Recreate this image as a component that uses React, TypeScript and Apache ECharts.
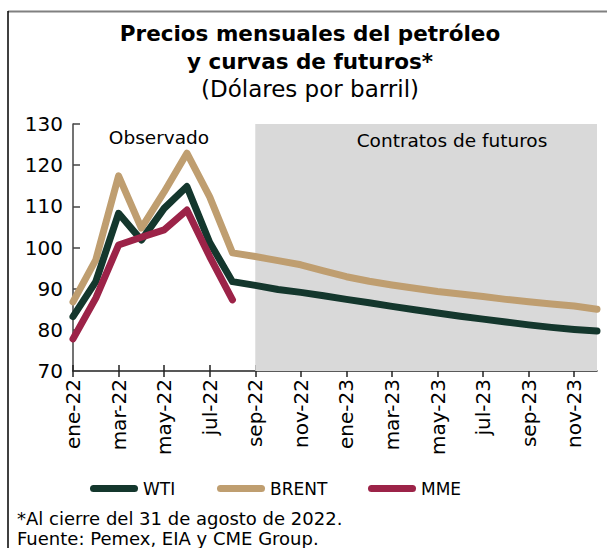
import React, { useEffect, useRef } from "react";
import * as echarts from "echarts";

const categories = [
  "ene-22", "feb-22", "mar-22", "abr-22", "may-22", "jun-22", "jul-22", "ago-22",
  "sep-22", "oct-22", "nov-22", "dic-22", "ene-23", "feb-23", "mar-23", "abr-23",
  "may-23", "jun-23", "jul-23", "ago-23", "sep-23", "oct-23", "nov-23", "dic-23",
];

const wti = [
  83.2, 91.7, 108.3, 101.8, 109.5, 114.8, 101.2, 91.7,
  90.8, 89.8, 89.1, 88.3, 87.4, 86.6, 85.7, 84.9,
  84.1, 83.3, 82.6, 81.9, 81.2, 80.6, 80.1, 79.7,
];

const brent = [
  86.8, 97.0, 117.4, 104.7, 113.5, 122.9, 112.3, 98.7,
  97.8, 96.8, 95.8, 94.3, 92.9, 91.8, 90.9, 90.1,
  89.3, 88.7, 88.1, 87.4, 86.8, 86.3, 85.8, 85.0,
];

const mme = [
  77.8, 87.7, 100.6, 102.5, 104.3, 109.1, 97.8, 87.3,
  null, null, null, null, null, null, null, null,
  null, null, null, null, null, null, null, null,
];

const yTicks = { min: 70, max: 130, interval: 10 };
const futuresStart = "sep-22";
const futuresEnd = "dic-23";

const FONT = "DejaVu Sans";
const C_WTI = "#14372D";
const C_BRENT = "#BF9E70";
const C_MME = "#9C2348";
const CAPSULE = "path://M3.5,0 L44.5,0 A3.5,3.5 0 0 1 44.5,7 L3.5,7 A3.5,3.5 0 0 1 3.5,0 Z";

export default function App() {
  const ref = useRef<HTMLDivElement>(null);
  useEffect(() => {
    document.body.style.margin = "0";
    const chart = echarts.init(ref.current!, null, { renderer: "svg" });
    const legendBase = {
      top: 480,
      padding: 0,
      itemWidth: 48,
      itemHeight: 7,
      icon: CAPSULE,
      textStyle: { fontFamily: FONT, fontSize: 17, color: "#000" },
      selectedMode: false,
    };
    chart.setOption({
      animation: false,
      backgroundColor: "#fff",
      grid: { left: 73, right: 10, top: 124, bottom: 177, containLabel: false },
      legend: [
        { ...legendBase, left: 90, data: ["WTI"] },
        { ...legendBase, left: 217, data: ["BRENT"] },
        { ...legendBase, left: 368, data: ["MME"] },
      ],
      xAxis: [
        {
          type: "category",
          data: categories,
          boundaryGap: false,
          axisLine: { lineStyle: { color: "#222", width: 1.5 } },
          axisTick: { interval: 1, length: 6, lineStyle: { color: "#222", width: 1.5 } },
          axisLabel: {
            interval: 1,
            rotate: 90,
            margin: 8,
            fontFamily: FONT,
            fontSize: 20,
            color: "#000",
          },
          splitLine: { show: false },
        },
        {
          type: "category",
          data: categories,
          boundaryGap: false,
          position: "bottom",
          axisLine: { show: false },
          axisTick: { inside: true, interval: 1, length: 6, lineStyle: { color: "#222", width: 1.5 } },
          axisLabel: { show: false },
          splitLine: { show: false },
        },
      ],
      yAxis: {
        type: "value",
        min: yTicks.min,
        max: yTicks.max,
        interval: yTicks.interval,
        axisLine: { show: true, lineStyle: { color: "#444", width: 1.5 } },
        axisTick: { show: true, inside: true, length: 7, lineStyle: { color: "#444", width: 1.5 } },
        axisLabel: { margin: 10, fontFamily: FONT, fontSize: 20, color: "#000" },
        splitLine: { show: false },
      },
      series: [
        {
          name: "area",
          type: "line",
          data: [],
          z: 1,
          silent: true,
          markArea: {
            silent: true,
            itemStyle: { color: "#D9D9D9" },
            data: [[{ xAxis: futuresStart }, { xAxis: futuresEnd }]],
          },
        },
        {
          name: "BRENT",
          type: "line",
          data: brent,
          z: 3,
          symbol: "none",
          lineStyle: { color: C_BRENT, width: 7, cap: "round", join: "round" },
          itemStyle: { color: C_BRENT },
        },
        {
          name: "WTI",
          type: "line",
          data: wti,
          z: 4,
          symbol: "none",
          lineStyle: { color: C_WTI, width: 7, cap: "round", join: "round" },
          itemStyle: { color: C_WTI },
        },
        {
          name: "MME",
          type: "line",
          data: mme,
          z: 5,
          symbol: "none",
          lineStyle: { color: C_MME, width: 7, cap: "round", join: "round" },
          itemStyle: { color: C_MME },
        },
      ],
      graphic: [
        { type: "line", shape: { x1: 8, y1: 11.5, x2: 607, y2: 11.5 }, style: { stroke: "#808080", lineWidth: 2 } },
        { type: "line", shape: { x1: 8, y1: 11, x2: 8, y2: 548 }, style: { stroke: "#000", lineWidth: 1.5 } },
        {
          type: "text", x: 310, y: 33,
          style: { text: "Precios mensuales del petróleo", font: `bold 21.5px "${FONT}"`, fill: "#000", textAlign: "center", textVerticalAlign: "middle" },
        },
        {
          type: "text", x: 310, y: 61,
          style: { text: "y curvas de futuros*", font: `bold 21.5px "${FONT}"`, fill: "#000", textAlign: "center", textVerticalAlign: "middle" },
        },
        {
          type: "text", x: 310, y: 89,
          style: { text: "(Dólares por barril)", font: `23px "${FONT}"`, fill: "#000", textAlign: "center", textVerticalAlign: "middle" },
        },
        {
          type: "text", x: 159, y: 137, z: 10,
          style: { text: "Observado", font: `18.5px "${FONT}"`, fill: "#000", textAlign: "center", textVerticalAlign: "middle" },
        },
        {
          type: "text", x: 452, y: 140, z: 10,
          style: { text: "Contratos de futuros", font: `18.5px "${FONT}"`, fill: "#000", textAlign: "center", textVerticalAlign: "middle" },
        },
        {
          type: "text", x: 17, y: 518,
          style: { text: "*Al cierre del 31 de agosto de 2022.", font: `18px "${FONT}"`, fill: "#000", textAlign: "left", textVerticalAlign: "middle" },
        },
        {
          type: "text", x: 17, y: 538,
          style: { text: "Fuente: Pemex, EIA y CME Group.", font: `18px "${FONT}"`, fill: "#000", textAlign: "left", textVerticalAlign: "middle" },
        },
      ],
    });
    return () => chart.dispose();
  }, []);
  return <div ref={ref} style={{ width: 607, height: 548 }} />;
}
